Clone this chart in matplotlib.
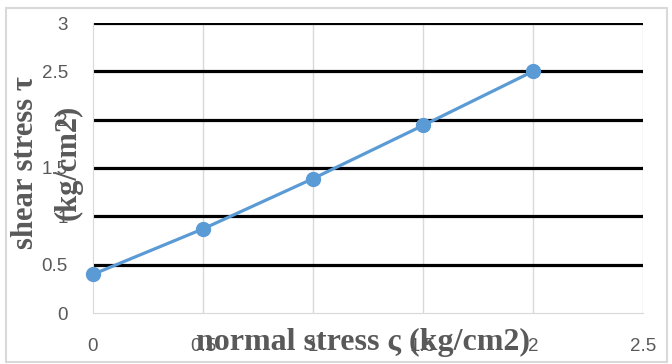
import matplotlib.pyplot as plt
from matplotlib.patches import Rectangle

# data
normal_stress = [0, 0.5, 1, 1.5, 2]
shear_stress = [0.4, 0.87, 1.39, 1.94, 2.5]
x_ticks = [0, 0.5, 1, 1.5, 2, 2.5]
y_ticks = [0, 0.5, 1, 1.5, 2, 2.5, 3]

gray = '#595959'

fig = plt.figure(figsize=(6.72, 3.64), dpi=100)
ax = fig.add_axes([93/672, 51/364, 550/672, 290/364])

# light outer frame like the excel chart area
fig.patches.append(Rectangle((0.009, 0.006), 0.983, 0.972, transform=fig.transFigure,
                             fill=False, edgecolor='#d9d9d9', linewidth=1.5))

ax.set_xlim(0, 2.5)
ax.set_ylim(0, 3)
ax.set_xticks(x_ticks)
ax.set_yticks(y_ticks)
ax.set_xticklabels([f'{v:g}' for v in x_ticks])
ax.set_yticklabels([f'{v:g}' for v in y_ticks])

# gridlines: thin gray verticals, thick black horizontals
for xv in x_ticks[1:]:
    ax.axvline(xv, color='#d9d9d9', linewidth=1, zorder=0)
for yv in y_ticks[1:]:
    ax.axhline(yv, color='black', linewidth=2.3, zorder=1)

for s in ['top', 'right']:
    ax.spines[s].set_visible(False)
ax.spines['left'].set_color('#d9d9d9')
ax.spines['bottom'].set_color('#d9d9d9')

ax.tick_params(length=0, labelsize=13.5, labelcolor=gray, pad=18)
for lab in ax.get_xticklabels() + ax.get_yticklabels():
    lab.set_family('Liberation Sans')

ax.plot(normal_stress, shear_stress, color='#5b9bd5', linewidth=2.3,
        marker='o', markersize=10, zorder=3, clip_on=False)

ax.set_xlabel('normal stress ς (kg/cm2)', family='Liberation Serif', fontweight='bold',
              fontsize=23, color=gray, va='center')
ax.xaxis.set_label_coords(0.491, -0.1)
ax.set_ylabel('shear stress τ\n(kg/cm2)', family='Liberation Serif', fontweight='bold',
              fontsize=22, color=gray, va='center', ha='center', linespacing=1.6)
ax.yaxis.set_label_coords(-0.084, 0.52)

fig.savefig('out.png', dpi=100)
